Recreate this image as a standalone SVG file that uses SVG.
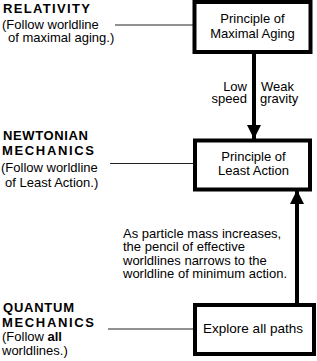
<svg xmlns="http://www.w3.org/2000/svg" width="317" height="361" viewBox="0 0 317 361">
<defs>
<style>
text{font-family:"Liberation Sans",Arial,sans-serif;font-size:13px;fill:#000}
.h{font-weight:bold}
.box{fill:#fff;stroke:#000;stroke-width:4}
.c{text-anchor:middle}
.r{text-anchor:end}
.thin{stroke:#222;stroke-width:1;fill:none}
.thick{stroke:#000;stroke-width:4;fill:none}
</style>
<marker id="ah" markerUnits="userSpaceOnUse" markerWidth="14" markerHeight="15" refX="14" refY="7" orient="auto" viewBox="0 0 14 14">
<polygon points="0,0 14,7 0,14" fill="#000"/>
</marker>
</defs>
<rect width="317" height="361" fill="#fff"/>
<g id="connectors">
<line class="thin" x1="115" y1="25" x2="194" y2="25"/>
<line class="thin" x1="110" y1="163.5" x2="195" y2="163.5"/>
<line class="thin" x1="108" y1="329" x2="195" y2="329"/>
<line class="thick" x1="254" y1="52" x2="254" y2="139" marker-end="url(#ah)"/>
<line class="thick" x1="297" y1="305" x2="297" y2="190" marker-end="url(#ah)"/>
</g>
<g id="relativity-label">
<text class="h" x="3" y="12.7" textLength="87" lengthAdjust="spacing">RELATIVITY</text>
<text x="2" y="29">(Follow worldline</text>
<text x="8" y="42">of maximal aging.)</text>
</g>
<g id="newtonian-label">
<text class="h" x="3" y="140" textLength="85" lengthAdjust="spacing">NEWTONIAN</text>
<text class="h" x="2" y="155" textLength="92" lengthAdjust="spacing">MECHANICS</text>
<text x="1" y="172">(Follow worldline</text>
<text x="5" y="186.5">of Least Action.)</text>
</g>
<g id="quantum-label">
<text class="h" x="3" y="312" textLength="71" lengthAdjust="spacing">QUANTUM</text>
<text class="h" x="2" y="327" textLength="92" lengthAdjust="spacing">MECHANICS</text>
<text x="2" y="341">(Follow <tspan class="h">all</tspan></text>
<text x="2" y="355">worldlines.)</text>
</g>
<g id="maximal-aging">
<rect class="box" x="194.5" y="2" width="116" height="50"/>
<text class="c" x="252.5" y="23">Principle of</text>
<text class="c" x="252.5" y="37.5">Maximal Aging</text>
</g>
<g id="arrow-labels">
<text class="r" x="247" y="90.5">Low</text>
<text class="r" x="247" y="103">speed</text>
<text x="261" y="90.5">Weak</text>
<text x="260" y="103">gravity</text>
</g>
<g id="least-action">
<rect class="box" x="195" y="140.5" width="115" height="49"/>
<text class="c" x="253.5" y="160.5">Principle of</text>
<text class="c" x="253.5" y="175">Least Action</text>
</g>
<g id="mass-note">
<text x="123" y="237.5">As particle mass increases,</text>
<text x="123" y="251">the pencil of effective</text>
<text x="123" y="264.5">worldlines narrows to the</text>
<text x="123" y="278">worldline of minimum action.</text>
</g>
<g id="explore-paths">
<rect class="box" x="195" y="305" width="119" height="49"/>
<text class="c" x="253" y="332.5" style="font-size:13.5px">Explore all paths</text>
</g>
</svg>
